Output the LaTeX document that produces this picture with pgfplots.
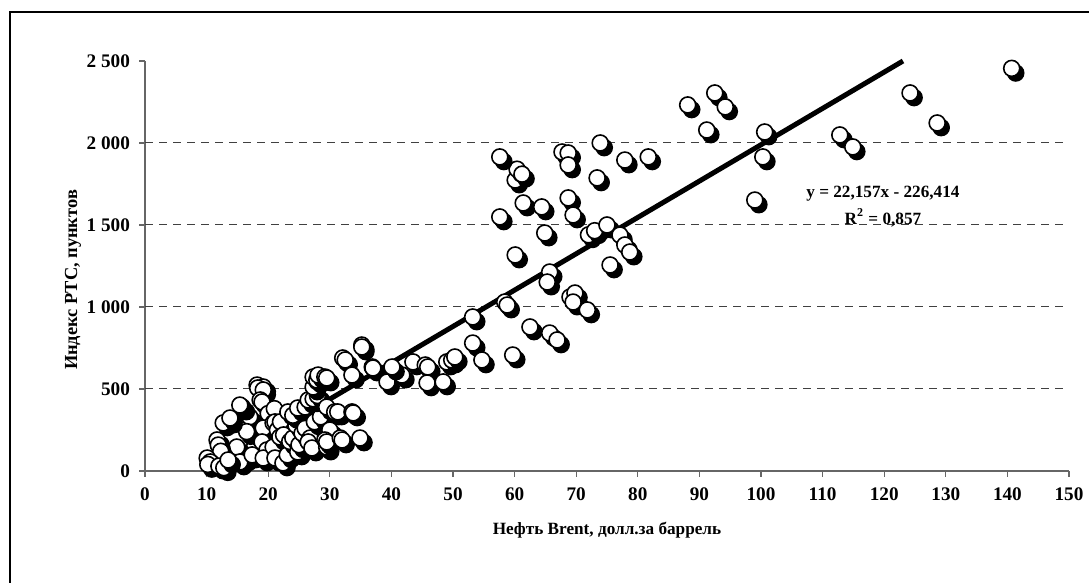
\documentclass[border=0pt]{standalone}
\usepackage{fontspec}
\setmainfont{Liberation Serif}
\usepackage{pgfplots}
\pgfplotsset{compat=1.18}
\usepackage{pgfplotstable}

\pgfdeclareplotmark{shball}{%
  \pgfsetfillcolor{black}%
  \pgfpathcircle{\pgfqpoint{2pt}{-2.3pt}}{\pgfplotmarksize}%
  \pgfusepathqfillstroke
  \pgfsetfillcolor{white}%
  \pgfpathcircle{\pgfpointorigin}{\pgfplotmarksize}%
  \pgfusepathqfillstroke
}

\pgfplotstableread{
x y
16.2 80
17.0 110
17.8 150
18.5 200
17.0 330
16.5 240
15.8 390
15.4 402
14.9 146
15.4 55
13.8 311
12.7 293
13.8 323
11.7 189
11.9 158
12.3 120
10.1 79
10.6 55
10.2 40
12.0 30
12.8 20
13.5 67
17.4 98
18.2 524
19.2 512
18.3 506
19.2 494
18.7 433
19.0 421
20.0 350
21.0 380
20.0 240
19.2 262
19.0 177
19.8 128
19.2 79
20.8 146
20.8 293
21.1 299
21.1 79
21.5 250
22.0 300
21.9 207
22.5 220
22.4 49
23.1 98
23.5 180
24.0 201
24.5 280
23.2 360
24.0 340
24.8 384
24.8 116
25.0 160
25.5 230
26.0 260
26.0 390
26.5 433
26.8 201
26.5 177
27.1 140
27.5 300
28.5 330
27.3 440
28.0 460
30.0 250
29.5 390
29.5 146
29.2 189
29.5 177
30.8 360
31.3 360
31.7 201
32.0 189
33.6 360
33.8 354
34.9 201
27.3 512
27.3 573
27.9 555
28.1 585
29.2 573
29.5 567
32.1 689
32.5 677
33.6 585
35.2 768
35.2 756
36.9 634
37.0 628
40.3 616
39.3 543
41.7 585
43.5 665
45.5 646
45.9 634
49.0 665
49.8 677
50.3 695
53.2 780
54.7 677
53.2 939
58.4 1030
58.8 1012
60.1 1317
57.6 1549
61.4 1634
64.4 1610
64.9 1451
65.7 1213
65.3 1152
69.0 1061
69.8 1085
69.5 1030
71.8 982
72.0 1440
73.0 1465
75.0 1500
77.1 1439
77.9 1378
78.7 1335
75.5 1256
68.7 1665
69.5 1561
73.4 1787
60.1 1774
60.4 1840
61.2 1810
57.6 1915
67.7 1945
68.7 1939
68.7 1866
73.9 2000
77.9 1896
81.7 1915
88.1 2232
92.5 2305
94.2 2220
91.2 2079
100.6 2067
100.3 1915
112.8 2049
114.9 1976
124.2 2305
128.6 2122
140.7 2455
99.0 1652
62.5 878
65.7 841
66.9 799
59.7 707
45.8 537
48.4 543
40.1 634
}\datatable

\begin{document}
\begin{tikzpicture}
\useasboundingbox (0,0) rectangle (544.5pt,291.5pt);
\begin{axis}[
  at={(72.5pt,56pt)}, anchor=south west,
  scale only axis, width=462pt, height=205pt,
  xmin=0, xmax=150, ymin=0, ymax=2500,
  clip=false,
  axis x line*=bottom, axis y line*=left,
  axis line style={-, draw=gray!80!black, line width=0.7pt},
  xtick={0,10,...,150},
  ytick={0,500,1000,1500,2000,2500},
  yticklabels={0,500,1~000,1~500,2~000,2~500},
  tick align=outside, major tick length=3pt,
  tick style={draw=gray!80!black, line width=0.6pt},
  /pgf/number format/assume math mode=true,
  tick label style={font=\fontsize{9.6}{11}\selectfont\bfseries},
  xticklabel style={yshift=-2pt},
  yticklabel style={xshift=-1pt},
  extra y ticks={500,1000,1500,2000},
  extra y tick labels={},
  extra y tick style={grid=major, major tick length=0pt},
  grid style={draw=black!75, line width=0.5pt, dash pattern=on 4pt off 3pt},
]
\addplot[only marks, mark=shball, mark size=4pt, draw=black, line width=0.8pt] table[x=x,y=y] {\datatable};
\addplot[black, line width=2.5pt] coordinates {(10.22,0) (123.05,2500)};
\node[font=\fontsize{8.6}{13.5}\selectfont\bfseries, align=center] at (axis cs:119.8,1612) {y = 22,157x - 226,414\\R\textsuperscript{2} = 0,857};
\end{axis}
\node[rotate=90, font=\fontsize{9.2}{11}\selectfont\bfseries] at (36.5pt,151.5pt) {Индекс РТС, пунктов};
\node[font=\fontsize{8.6}{10}\selectfont\bfseries] at (303.5pt,26.5pt) {Нефть Brent, долл.за баррель};
\draw[line width=0.7pt] (5pt,-20pt) -- (5pt,285.5pt) -- (570pt,285.5pt);
\end{tikzpicture}
\end{document}
